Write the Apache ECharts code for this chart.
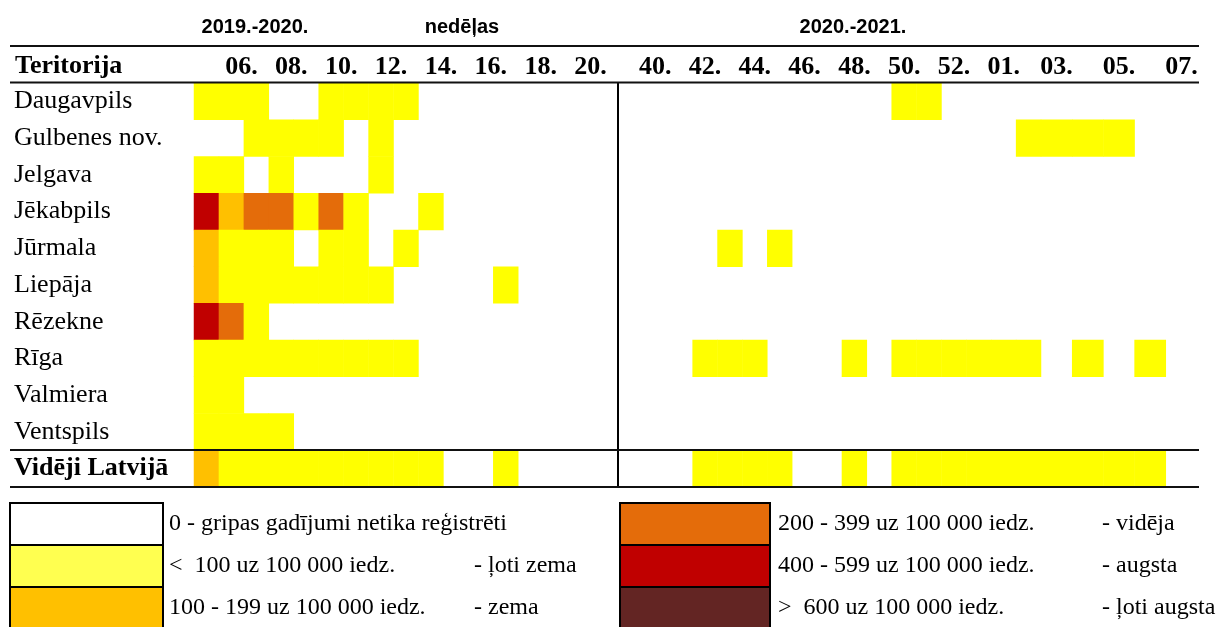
<!DOCTYPE html>
<html>
<head>
<meta charset="utf-8">
<script src="https://cdn.jsdelivr.net/npm/echarts@6/dist/echarts.min.js"></script>
<style>
  html, body { margin: 0; padding: 0; background: #ffffff; }
  #gripa { width: 1222px; height: 627px; }
</style>
</head>
<body>
<div id="gripa"></div>
<script>
  // teritorijas (rindas)
  var territories = ['Daugavpils', 'Gulbenes nov.', 'Jelgava', 'Jēkabpils', 'Jūrmala', 'Liepāja',
    'Rēzekne', 'Rīga', 'Valmiera', 'Ventspils', 'Vidēji Latvijā'];

  // nedēļas
  var weeks1920 = ['05.', '06.', '07.', '08.', '09.', '10.', '11.', '12.', '13.', '14.', '15.', '16.',
    '17.', '18.', '19.', '20.', '21.'];
  var weeks2021 = ['39.', '40.', '41.', '42.', '43.', '44.', '45.', '46.', '47.', '48.', '49.', '50.',
    '51.', '52.', '53.', '01.', '02.', '03.', '04.', '05.', '06.', '07.'];

  // intensitātes līmenis: 0 - nav, 1 - ļoti zema, 2 - zema, 3 - vidēja, 4 - augsta, 5 - ļoti augsta
  var levels1920 = [
    [1, 1, 1, 0, 0, 1, 1, 1, 1, 0, 0, 0, 0, 0, 0, 0, 0],
    [0, 0, 1, 1, 1, 1, 0, 1, 0, 0, 0, 0, 0, 0, 0, 0, 0],
    [1, 1, 0, 1, 0, 0, 0, 1, 0, 0, 0, 0, 0, 0, 0, 0, 0],
    [4, 2, 3, 3, 1, 3, 1, 0, 0, 1, 0, 0, 0, 0, 0, 0, 0],
    [2, 1, 1, 1, 0, 1, 1, 0, 1, 0, 0, 0, 0, 0, 0, 0, 0],
    [2, 1, 1, 1, 1, 1, 1, 1, 0, 0, 0, 0, 1, 0, 0, 0, 0],
    [4, 3, 1, 0, 0, 0, 0, 0, 0, 0, 0, 0, 0, 0, 0, 0, 0],
    [1, 1, 1, 1, 1, 1, 1, 1, 1, 0, 0, 0, 0, 0, 0, 0, 0],
    [1, 1, 0, 0, 0, 0, 0, 0, 0, 0, 0, 0, 0, 0, 0, 0, 0],
    [1, 1, 1, 1, 0, 0, 0, 0, 0, 0, 0, 0, 0, 0, 0, 0, 0],
    [2, 1, 1, 1, 1, 1, 1, 1, 1, 1, 0, 0, 1, 0, 0, 0, 0]
  ];
  var levels2021 = [
    [0, 0, 0, 0, 0, 0, 0, 0, 0, 0, 0, 1, 1, 0, 0, 0, 0, 0, 0, 0, 0, 0],
    [0, 0, 0, 0, 0, 0, 0, 0, 0, 0, 0, 0, 0, 0, 0, 0, 1, 1, 1, 1, 0, 0],
    [0, 0, 0, 0, 0, 0, 0, 0, 0, 0, 0, 0, 0, 0, 0, 0, 0, 0, 0, 0, 0, 0],
    [0, 0, 0, 0, 0, 0, 0, 0, 0, 0, 0, 0, 0, 0, 0, 0, 0, 0, 0, 0, 0, 0],
    [0, 0, 0, 0, 1, 0, 1, 0, 0, 0, 0, 0, 0, 0, 0, 0, 0, 0, 0, 0, 0, 0],
    [0, 0, 0, 0, 0, 0, 0, 0, 0, 0, 0, 0, 0, 0, 0, 0, 0, 0, 0, 0, 0, 0],
    [0, 0, 0, 0, 0, 0, 0, 0, 0, 0, 0, 0, 0, 0, 0, 0, 0, 0, 0, 0, 0, 0],
    [0, 0, 0, 1, 1, 1, 0, 0, 0, 1, 0, 1, 1, 1, 1, 1, 1, 0, 1, 0, 1, 0],
    [0, 0, 0, 0, 0, 0, 0, 0, 0, 0, 0, 0, 0, 0, 0, 0, 0, 0, 0, 0, 0, 0],
    [0, 0, 0, 0, 0, 0, 0, 0, 0, 0, 0, 0, 0, 0, 0, 0, 0, 0, 0, 0, 0, 0],
    [0, 0, 0, 1, 1, 1, 1, 0, 0, 1, 0, 1, 1, 1, 1, 1, 1, 1, 1, 1, 1, 0]
  ];

  var levelColors = ['#ffffff', '#ffff00', '#ffc000', '#e46c0a', '#c00000', '#632523'];
  var legendColors = ['#ffffff', '#ffff50', '#ffc000', '#e46c0a', '#c00000', '#632523'];
  var legendRange = ['0 - gripas gadījumi netika reģistrēti', '<  100 uz 100 000 iedz.',
    '100 - 199 uz 100 000 iedz.', '200 - 399 uz 100 000 iedz.', '400 - 599 uz 100 000 iedz.',
    '>  600 uz 100 000 iedz.'];
  var legendLevel = ['', '- ļoti zema', '- zema', '- vidēja', '- augsta', '- ļoti augsta'];

  // 2020.-2021. sezonas pēdējās nedēļas tabulā ir platākas, tāpēc atsevišķs grid
  var splitAt = 17;

  function toCells(rows, from, to) {
    var out = [];
    rows.forEach(function (row, y) {
      for (var x = from; x < to; x++) {
        if (row[x] > 0) out.push([x - from, y, row[x]]);
      }
    });
    return out;
  }

  var serif = 'Liberation Serif';
  var sans = 'Liberation Sans';
  var weekLabel = {
    fontFamily: serif, fontWeight: 'bold', fontSize: 26, color: '#000',
    verticalAlign: 'middle', margin: 16
  };

  var graphics = [];
  // tabulas līnijas
  [46, 82.5, 450, 487].forEach(function (y) {
    graphics.push({
      type: 'line', z: 100,
      shape: {x1: 10, y1: y, x2: 1199, y2: y},
      style: {stroke: '#111', lineWidth: 2}
    });
  });
  graphics.push({
    type: 'text', left: 15, top: 53,
    style: {text: 'Teritorija', font: 'bold 26px "' + serif + '"', fill: '#000'}
  });
  [['2019.-2020.', 255], ['nedēļas', 462], ['2020.-2021.', 853]].forEach(function (t) {
    graphics.push({
      type: 'text', x: t[1], y: 27,
      style: {text: t[0], font: 'bold 20px "' + sans + '"', fill: '#000', align: 'center', verticalAlign: 'middle'}
    });
  });
  // leģenda
  legendColors.forEach(function (c, i) {
    var col = Math.floor(i / 3), row = i % 3;
    var bx = col === 0 ? 10 : 620, bw = col === 0 ? 153 : 150;
    var by = 503 + row * 42;
    graphics.push({
      type: 'rect', z: 100,
      shape: {x: bx, y: by, width: bw, height: 42},
      style: {fill: c, stroke: '#000', lineWidth: 2}
    });
    graphics.push({
      type: 'text', x: col === 0 ? 169 : 778, y: by + 21,
      style: {text: legendRange[i], font: '24px "' + serif + '"', fill: '#000', verticalAlign: 'middle'}
    });
    if (legendLevel[i]) {
      graphics.push({
        type: 'text', x: col === 0 ? 474 : 1102, y: by + 21,
        style: {text: legendLevel[i], font: '24px "' + serif + '"', fill: '#000', verticalAlign: 'middle'}
      });
    }
  });

  var myChart = echarts.init(document.getElementById('gripa'));
  myChart.setOption({
    animation: false,
    backgroundColor: '#ffffff',
    grid: [
      {left: 194, top: 83, width: 424, height: 404},
      {left: 618, top: 83, width: 423, height: 404},
      {left: 1041, top: 83, width: 156, height: 404}
    ],
    xAxis: [
      {
        type: 'category', gridIndex: 0, position: 'top', data: weeks1920,
        axisLine: {show: false}, axisTick: {show: false},
        axisLabel: Object.assign({}, weekLabel, {
          interval: function (idx) { return idx % 2 === 1; },
          padding: [0, 0, 0, 20]
        })
      },
      {
        type: 'category', gridIndex: 1, position: 'top', data: weeks2021.slice(0, splitAt),
        axisLine: {show: false}, axisTick: {show: false},
        axisLabel: Object.assign({}, weekLabel, {
          interval: function (idx) { return idx % 2 === 1; }
        })
      },
      {
        type: 'category', gridIndex: 2, position: 'top', data: weeks2021.slice(splitAt),
        axisLine: {show: false}, axisTick: {show: false},
        axisLabel: Object.assign({}, weekLabel, {
          interval: function (idx) { return idx % 2 === 0; }
        })
      }
    ],
    yAxis: [
      {
        type: 'category', gridIndex: 0, inverse: true, data: territories,
        axisLine: {show: false}, axisTick: {show: false},
        axisLabel: {
          align: 'left', margin: 180, fontFamily: serif, fontSize: 26, color: '#000',
          formatter: function (v) {
            return v === 'Vidēji Latvijā' ? '{b|' + v + '}' : v;
          },
          rich: {b: {fontFamily: serif, fontSize: 26, fontWeight: 'bold', color: '#000'}}
        }
      },
      {
        type: 'category', gridIndex: 1, inverse: true, data: territories,
        axisLine: {show: true, lineStyle: {color: '#000', width: 2}},
        axisTick: {show: false}, axisLabel: {show: false}
      },
      {
        type: 'category', gridIndex: 2, inverse: true, data: territories, show: false
      }
    ],
    visualMap: {
      type: 'piecewise', show: false, dimension: 2, seriesIndex: [0, 1, 2],
      pieces: levelColors.map(function (c, i) { return {value: i, color: c}; })
    },
    series: [
      {type: 'heatmap', xAxisIndex: 0, yAxisIndex: 0, data: toCells(levels1920, 0, weeks1920.length)},
      {type: 'heatmap', xAxisIndex: 1, yAxisIndex: 1, data: toCells(levels2021, 0, splitAt)},
      {type: 'heatmap', xAxisIndex: 2, yAxisIndex: 2, data: toCells(levels2021, splitAt, weeks2021.length)}
    ],
    graphic: graphics
  });
</script>
</body>
</html>
